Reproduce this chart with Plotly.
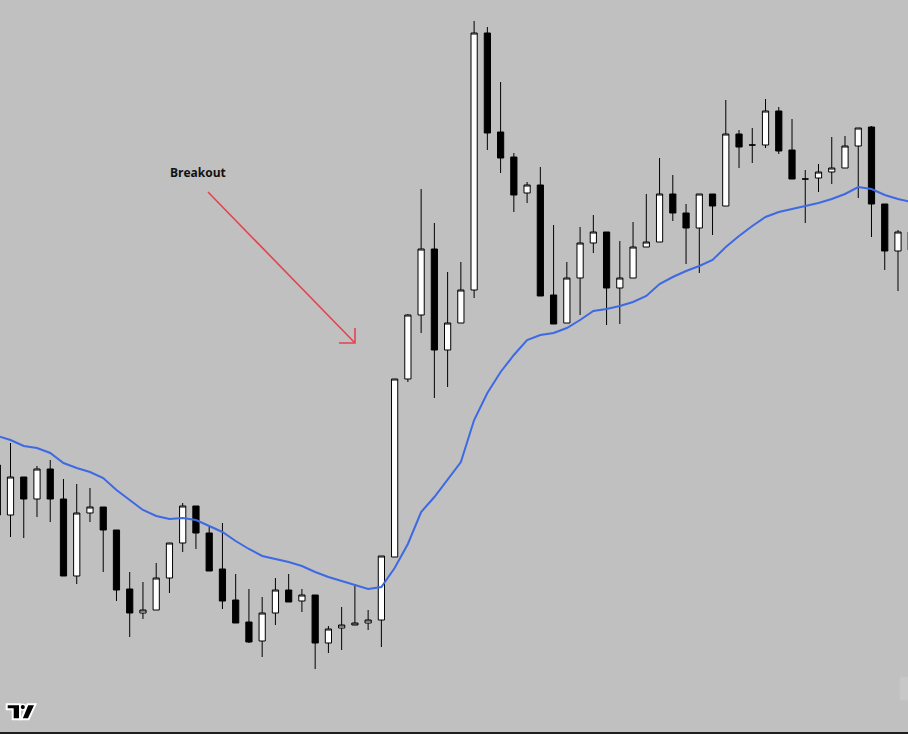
import plotly.graph_objects as go

# ---- data (price units) ----
bar_index = list(range(-1, 69))
open_ = [269, 219, 257, 235, 265, 235, 158, 221, 227, 204, 145, 121, 124, 156, 191, 228, 201, 165, 134, 112,
         93, 121, 144, 133, 139, 91, 106, 109, 111, 114, 177, 355, 419, 485, 384, 411, 444, 701, 602, 577,
         541, 549, 439, 411, 456, 491, 502, 446, 456, 487, 492, 540, 521, 506, 540, 528, 600, 589, 589, 623,
         584, 555, 556, 562, 566, 588, 607, 530, 483, 484]
high = [275, 291, 257, 268, 274, 255, 250, 246, 227, 204, 162, 152, 171, 191, 231, 228, 207, 211, 160, 145,
        137, 156, 160, 145, 139, 108, 127, 150, 124, 178, 355, 420, 545, 511, 462, 472, 713, 707, 652, 581,
        552, 567, 509, 472, 507, 519, 502, 493, 512, 540, 576, 559, 530, 540, 540, 634, 604, 606, 635, 627,
        615, 564, 570, 597, 598, 606, 608, 530, 504, 504]
low = [200, 197, 196, 217, 212, 158, 150, 212, 162, 133, 97, 115, 124, 141, 182, 185, 163, 125, 111, 91,
       77, 109, 132, 122, 65, 81, 84, 109, 104, 87, 177, 352, 401, 336, 347, 411, 436, 584, 561, 522,
       531, 438, 410, 411, 419, 481, 409, 410, 456, 487, 492, 513, 470, 461, 499, 528, 566, 571, 586, 580,
       555, 511, 542, 550, 566, 536, 497, 464, 443, 474]
close = [219, 257, 235, 265, 235, 158, 221, 227, 204, 144, 121, 124, 156, 191, 228, 201, 163, 133, 111, 92,
         121, 144, 132, 139, 91, 105, 109, 111, 114, 178, 355, 419, 485, 384, 411, 444, 701, 601, 576, 539,
         549, 438, 410, 456, 491, 502, 446, 456, 487, 492, 540, 521, 506, 540, 528, 600, 587, 589, 623, 583,
         555, 555, 562, 566, 588, 606, 530, 483, 502, 502]
ma = [298, 294, 288, 286, 281, 271, 266, 262, 256, 244, 234, 224, 218, 215, 216, 214, 208, 202, 193, 185,
      178, 175, 172, 168, 162, 157, 153, 149, 145, 147, 166, 190, 222, 237, 254, 272, 314, 341, 362, 379,
      394, 399, 401, 406, 414, 423, 425, 428, 432, 438, 450, 457, 463, 468, 474, 487, 498, 508, 517, 522,
      525, 528, 531, 535, 540, 547, 545, 539, 535, 532]

annotation_text = "Breakout"

W, H = 908, 734
BG = "#c0c0c0"


def px(x):
    return x / W


def py(y):
    return 1 - y / H


fig = go.Figure()
fig.add_trace(go.Scatter(
    x=bar_index, y=ma, mode="lines",
    line=dict(color="#3d69e3", width=2),
    hoverinfo="skip",
))
fig.add_trace(go.Candlestick(
    x=bar_index, open=open_, high=high, low=low, close=close,
    increasing=dict(line=dict(color="#000000", width=1), fillcolor="#ffffff"),
    decreasing=dict(line=dict(color="#000000", width=1), fillcolor="#000000"),
    whiskerwidth=0,
))

shapes = []
# red arrow
arrow_path = (f"M{px(208)},{py(192)} L{px(355)},{py(343)} "
              f"M{px(339)},{py(343)} L{px(355)},{py(343)} L{px(355)},{py(328)}")
shapes.append(dict(type="path", xref="paper", yref="paper", path=arrow_path,
                   line=dict(color="#e4434f", width=1.6)))

# TradingView logo
logo_t = (f"M{px(6.7)},{py(704.3)} L{px(20)},{py(704.3)} L{px(20)},{py(719.3)} "
          f"L{px(12.7)},{py(719.3)} L{px(12.7)},{py(709.3)} L{px(6.7)},{py(709.3)} Z")
logo_slash = (f"M{px(27.5)},{py(704.3)} L{px(35.5)},{py(704.3)} L{px(28.5)},{py(719.3)} "
              f"L{px(21.3)},{py(719.3)} Z")
for p in (logo_t, logo_slash):
    shapes.append(dict(type="path", xref="paper", yref="paper", path=p,
                       fillcolor="#000000", line=dict(color="#ffffff", width=2), layer="above"))
shapes.append(dict(type="circle", xref="paper", yref="paper",
                   x0=px(20.0), x1=px(25.6), y0=py(704.3), y1=py(709.9),
                   fillcolor="#000000", line=dict(color="#ffffff", width=1.5), layer="above"))

# bottom border and faint right-edge button
shapes.append(dict(type="line", xref="paper", yref="paper", x0=0, x1=1, y0=py(733), y1=py(733),
                   line=dict(color="#1e1e1e", width=2)))
shapes.append(dict(type="rect", xref="paper", yref="paper", x0=px(900), x1=px(910),
                   y0=py(700), y1=py(677), fillcolor="#c8c8c8", line=dict(color="#c4c4c4", width=1)))

fig.update_layout(
    width=W, height=H,
    margin=dict(l=0, r=0, t=0, b=0),
    paper_bgcolor=BG, plot_bgcolor=BG,
    showlegend=False,
    boxgap=0.33,
    xaxis=dict(range=[-0.7927, 67.756], visible=False, rangeslider=dict(visible=False),
               showgrid=False, zeroline=False, fixedrange=True),
    yaxis=dict(range=[0, 734], visible=False, showgrid=False, zeroline=False, fixedrange=True),
    shapes=shapes,
    annotations=[dict(
        x=px(198), y=py(172), xref="paper", yref="paper", showarrow=False,
        text=f"<b>{annotation_text}</b>",
        font=dict(family="Open Sans, Arial, sans-serif", size=12, color="#111111"),
        xanchor="center", yanchor="middle",
    )],
)

fig.write_html(
    "out.html",
    config={"displayModeBar": False},
    post_script="document.body.style.margin='0';document.body.style.background='#c0c0c0';",
)
